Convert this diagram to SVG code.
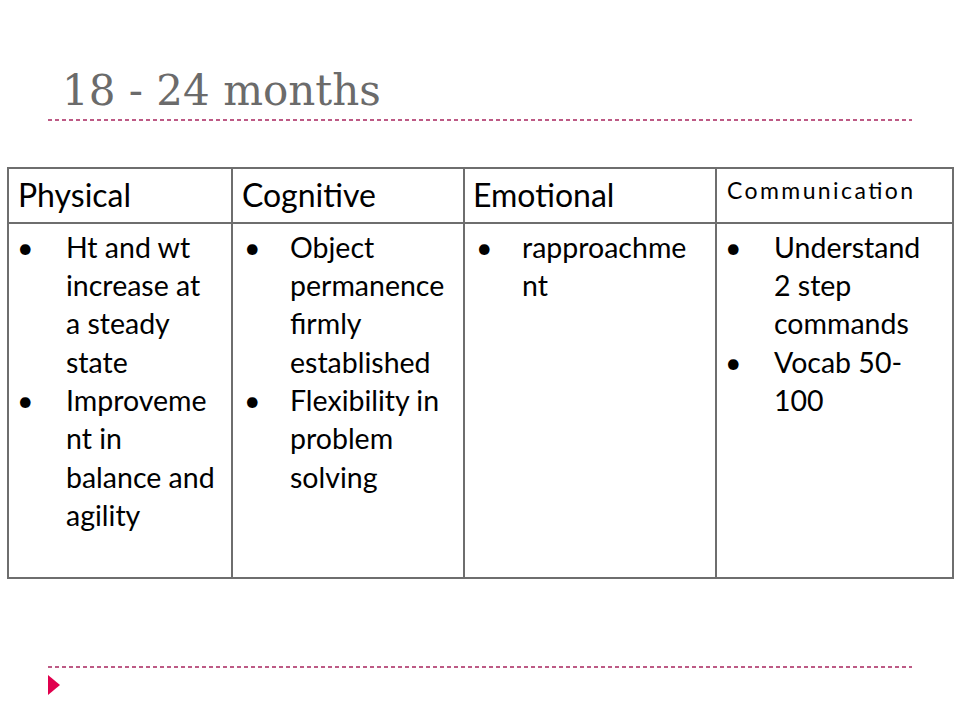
<svg xmlns="http://www.w3.org/2000/svg" width="960" height="720" viewBox="0 0 960 720">
<style>
.dash{stroke:#a8245e;stroke-width:1.3;stroke-dasharray:4 3;fill:none}
.grid{stroke:#6e6e6e;stroke-width:2;fill:none}
.hd{font-family:Lato,"Liberation Sans",sans-serif;font-size:32px;fill:#000}
.hds{font-family:Lato,"Liberation Sans",sans-serif;font-size:23px;fill:#000}
.bd{font-family:Lato,"Liberation Sans",sans-serif;font-size:28.5px;fill:#000}
.title{font-family:"DejaVu Serif","Liberation Serif",serif;font-size:42px;fill:#6b6b6b}
</style>
<rect width="960" height="720" fill="#fff"/>
<text class="title" x="62" y="105">18 - 24 months</text>
<line class="dash" x1="48" y1="120" x2="912" y2="120"/>
<line class="dash" x1="48" y1="667" x2="912" y2="667"/>
<polygon points="48,675 60,685 48,695" fill="#e0004d"/>
<g id="table">
<rect class="grid" x="8" y="168" width="945" height="410"/>
<line class="grid" x1="8" y1="223" x2="953" y2="223"/>
<line class="grid" x1="232" y1="168" x2="232" y2="578"/>
<line class="grid" x1="464" y1="168" x2="464" y2="578"/>
<line class="grid" x1="716" y1="168" x2="716" y2="578"/>
</g>
<g id="physical">
<text class="hd" x="18" y="207">Physical</text>
<text class="bd"><tspan x="17" y="258">•</tspan><tspan x="66" y="258">Ht and wt</tspan><tspan x="66" y="296">increase at</tspan><tspan x="66" y="334">a steady</tspan><tspan x="66" y="373">state</tspan><tspan x="17" y="411">•</tspan><tspan x="66" y="411">Improveme</tspan><tspan x="66" y="449">nt in</tspan><tspan x="66" y="488">balance and</tspan><tspan x="66" y="526">agility</tspan></text>
</g>
<g id="cognitive">
<text class="hd" x="242" y="207">Cognitive</text>
<text class="bd"><tspan x="244" y="258">•</tspan><tspan x="290" y="258">Object</tspan><tspan x="290" y="296">permanence</tspan><tspan x="290" y="334">firmly</tspan><tspan x="290" y="373">established</tspan><tspan x="244" y="411">•</tspan><tspan x="290" y="411">Flexibility in</tspan><tspan x="290" y="449">problem</tspan><tspan x="290" y="488">solving</tspan></text>
</g>
<g id="emotional">
<text class="hd" x="473" y="207">Emotional</text>
<text class="bd"><tspan x="476" y="258">•</tspan><tspan x="522" y="258">rapproachme</tspan><tspan x="522" y="296">nt</tspan></text>
</g>
<g id="communication">
<text class="hds" x="727" y="199" textLength="186" lengthAdjust="spacing">Communication</text>
<text class="bd"><tspan x="725" y="258">•</tspan><tspan x="774" y="258">Understand</tspan><tspan x="774" y="296">2 step</tspan><tspan x="774" y="334">commands</tspan><tspan x="725" y="373">•</tspan><tspan x="774" y="373">Vocab 50-</tspan><tspan x="774" y="411">100</tspan></text>
</g>
</svg>
